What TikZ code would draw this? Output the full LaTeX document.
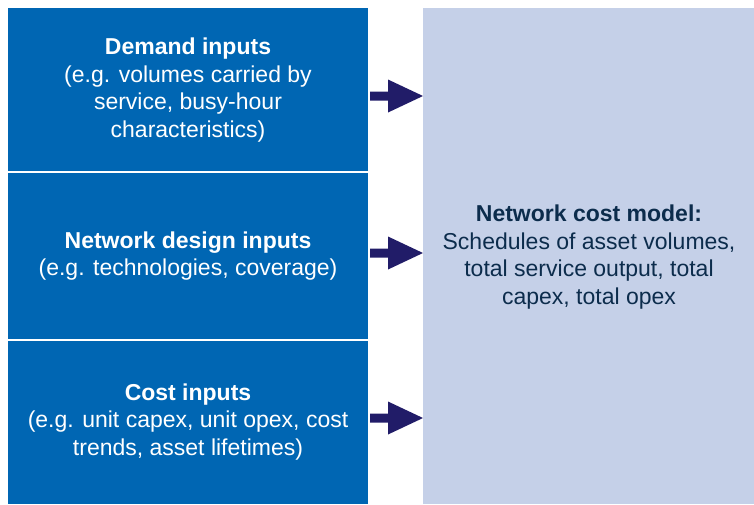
\documentclass[tikz,border=0pt]{standalone}
\usepackage{fontspec}
\setmainfont{Liberation Sans}
\definecolor{leftblue}{RGB}{0,102,179}
\definecolor{rightblue}{RGB}{197,208,232}
\definecolor{arrowblue}{RGB}{33,28,104}
\definecolor{darktext}{RGB}{12,44,76}
\begin{document}
\begin{tikzpicture}[x=1pt,y=-1pt,
  inbox/.style={draw=none,text=white,align=center,font=\fontsize{23}{27.8}\selectfont},
  bigbox/.style={draw=none,text=darktext,align=center,font=\fontsize{23}{27.8}\selectfont},
  blockarrow/.style={fill=arrowblue,draw=none}]
\useasboundingbox (0,0) rectangle (754,504);
\fill[leftblue] (8,8) rectangle (368,171);
\fill[leftblue] (8,173) rectangle (368,339);
\fill[leftblue] (8,341) rectangle (368,504);
\fill[rightblue] (423,8) rectangle (754,504);
\node[inbox] (demand) at (188,90) {\textbf{Demand inputs}\\(e.g. volumes carried by\\service, busy-hour\\characteristics)};
\node[inbox] (design) at (188,256) {\textbf{Network design inputs}\\(e.g. technologies, coverage)};
\node[inbox] (cost) at (188,422) {\textbf{Cost inputs}\\(e.g. unit capex, unit opex, cost\\trends, asset lifetimes)};
\node[bigbox] (model) at (589,257) {\textbf{Network cost model:}\\Schedules of asset volumes,\\total service output, total\\capex, total opex};
\foreach \n/\yy in {a1/96, a2/253, a3/418}{
  \coordinate (\n) at (423,\yy);
  \fill[blockarrow] ([xshift=-53pt,yshift=-4.5pt]\n) -- ([xshift=-35pt,yshift=-4.5pt]\n) -- ([xshift=-35pt,yshift=-16.5pt]\n) -- (\n) -- ([xshift=-35pt,yshift=16.5pt]\n) -- ([xshift=-35pt,yshift=4.5pt]\n) -- ([xshift=-53pt,yshift=4.5pt]\n) -- cycle;
}
\end{tikzpicture}
\end{document}
